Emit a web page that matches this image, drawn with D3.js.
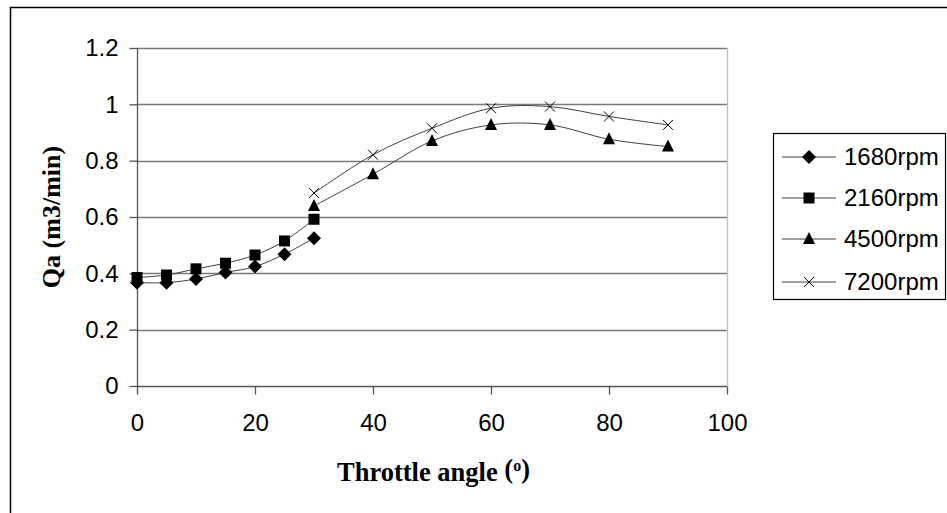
<!DOCTYPE html>
<html>
<head>
<meta charset="utf-8">
<script src="https://cdn.jsdelivr.net/npm/d3@7"></script>
<style>
  html, body { margin: 0; padding: 0; background: #fff; }
  svg { display: block; }
</style>
</head>
<body>
<svg id="chart" width="947" height="513"></svg>
<script>
// ---- data ----
const anglesLow = [0, 5, 10, 15, 20, 25, 30];
const q1680 = [0.367, 0.367, 0.380, 0.403, 0.424, 0.468, 0.525];
const q2160 = [0.385, 0.394, 0.416, 0.436, 0.465, 0.515, 0.592];
const anglesHigh = [30, 40, 50, 60, 70, 80, 90];
const q4500 = [0.639, 0.752, 0.870, 0.927, 0.927, 0.876, 0.850];
const q7200 = [0.685, 0.821, 0.915, 0.986, 0.992, 0.957, 0.927];
const seriesNames = ["1680rpm", "2160rpm", "4500rpm", "7200rpm"];
const xTicks = [0, 20, 40, 60, 80, 100];
const yTicks = [0, 0.2, 0.4, 0.6, 0.8, 1, 1.2];

const series = [
  { name: seriesNames[0], x: anglesLow, y: q1680, marker: "diamond" },
  { name: seriesNames[1], x: anglesLow, y: q2160, marker: "square" },
  { name: seriesNames[2], x: anglesHigh, y: q4500, marker: "triangle" },
  { name: seriesNames[3], x: anglesHigh, y: q7200, marker: "cross" }
];

const svg = d3.select("#chart");
const L = 137, R = 727, T = 48, B = 386;
const x = d3.scaleLinear().domain([0, 100]).range([L, R]);
const y = d3.scaleLinear().domain([0, 1.2]).range([B, T]);

// outer chart border (only top and left visible)
svg.append("rect").attr("x", 10.5).attr("y", 7.5).attr("width", 960).attr("height", 540)
  .attr("fill", "none").attr("stroke", "#000").attr("stroke-width", 1.5);

// gridlines
svg.append("g").selectAll("line").data(yTicks.filter(d => d > 0)).join("line")
  .attr("x1", L).attr("x2", R)
  .attr("y1", d => Math.round(y(d)) + 0.5).attr("y2", d => Math.round(y(d)) + 0.5)
  .attr("stroke", "#7a7a7a").attr("stroke-width", 1.3);

// plot area right border
svg.append("line").attr("x1", R + 0.5).attr("x2", R + 0.5).attr("y1", T).attr("y2", B)
  .attr("stroke", "#c0c0c0").attr("stroke-width", 1.3);

const font = "'Liberation Sans', Arial, sans-serif";
// y axis
const yAxis = d3.axisLeft(y).tickValues(yTicks).tickSize(8).tickPadding(11)
  .tickFormat(d => String(+d.toFixed(1)));
const gy = svg.append("g").attr("transform", `translate(${L + 0.5},0)`).call(yAxis);
gy.selectAll("path, line").attr("stroke", "#555").attr("stroke-width", 1.3);
gy.select(".domain").attr("d", `M0,${T}V${B}`);
gy.selectAll("text").attr("font-family", font).attr("font-size", 24).attr("fill", "#000");

// x axis
const xAxis = d3.axisBottom(x).tickValues(xTicks).tickSize(8).tickPadding(19);
const gx = svg.append("g").attr("transform", `translate(0,${B + 0.5})`).call(xAxis);
gx.selectAll("path, line").attr("stroke", "#555").attr("stroke-width", 1.3);
gx.select(".domain").attr("d", `M${L},0H${R}`);
gx.selectAll("text").attr("font-family", font).attr("font-size", 24).attr("fill", "#000");

// lines
const line = d3.line().x(d => x(d[0])).y(d => y(d[1])).curve(d3.curveCardinal.tension(0));
series.forEach(s => {
  const pts = s.x.map((v, i) => [v, s.y[i]]);
  svg.append("path").attr("d", line(pts)).attr("fill", "none")
    .attr("stroke", "#404040").attr("stroke-width", 1);
});

function marker(g, type, cx, cy) {
  if (type === "diamond") {
    g.append("path").attr("d", `M${cx},${cy - 7}L${cx + 7},${cy}L${cx},${cy + 7}L${cx - 7},${cy}Z`).attr("fill", "#000");
  } else if (type === "square") {
    g.append("rect").attr("x", cx - 5.5).attr("y", cy - 5.5).attr("width", 11).attr("height", 11).attr("fill", "#000");
  } else if (type === "triangle") {
    g.append("path").attr("d", `M${cx},${cy - 7}L${cx + 6},${cy + 5}L${cx - 6},${cy + 5}Z`).attr("fill", "#000");
  } else {
    g.append("path").attr("d", `M${cx - 5},${cy - 5}L${cx + 5},${cy + 5}M${cx + 5},${cy - 5}L${cx - 5},${cy + 5}`)
      .attr("stroke", "#000").attr("stroke-width", 1).attr("fill", "none");
  }
}
const gm = svg.append("g");
series.forEach(s => {
  s.x.forEach((v, i) => marker(gm, s.marker, x(v), y(s.y[i])));
});

// legend
const lg = svg.append("g");
lg.append("rect").attr("x", 773.5).attr("y", 133.5).attr("width", 172).attr("height", 166)
  .attr("fill", "#fff").attr("stroke", "#000").attr("stroke-width", 1.2);
const legY = [157, 198, 239, 282];
series.forEach((s, i) => {
  lg.append("line").attr("x1", 782).attr("x2", 836).attr("y1", legY[i]).attr("y2", legY[i])
    .attr("stroke", "#404040").attr("stroke-width", 1);
  marker(lg, s.marker, 809, legY[i]);
  lg.append("text").attr("x", 844).attr("y", legY[i]).attr("dy", "0.35em")
    .attr("font-family", font).attr("font-size", 24).text(s.name);
});

// axis titles
const serif = "'Liberation Serif', 'Times New Roman', serif";
svg.append("text").attr("transform", "translate(60,217) rotate(-90)")
  .attr("text-anchor", "middle").attr("font-family", serif).attr("font-weight", "bold")
  .attr("font-size", 26).text("Qa (m3/min)");

const xt = svg.append("text").attr("x", 337).attr("y", 481)
  .attr("font-family", serif).attr("font-weight", "bold").attr("font-size", 26.5);
xt.append("tspan").text("Throttle angle ");
xt.append("tspan").attr("dy", -3).text("(");
xt.append("tspan").attr("dy", -7).attr("font-size", 16).text("o");
xt.append("tspan").attr("dy", 7).text(")");
</script>
</body>
</html>
